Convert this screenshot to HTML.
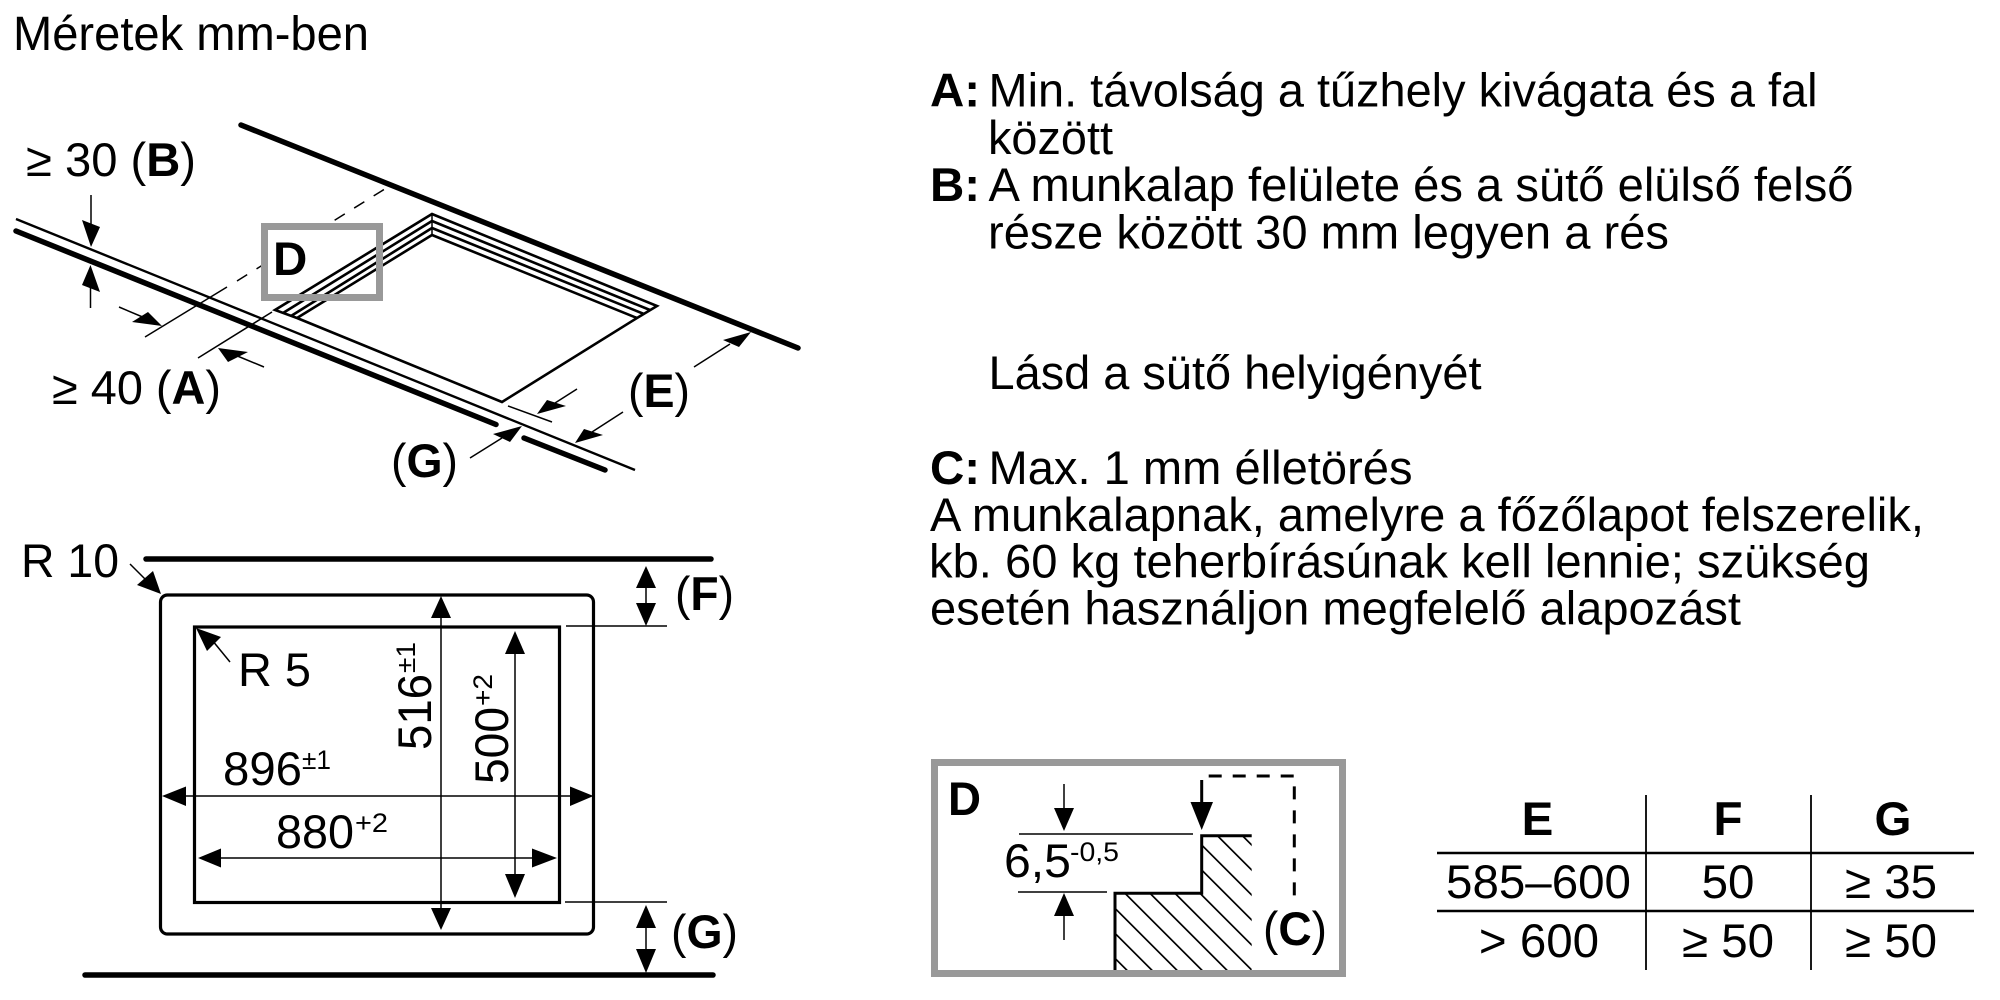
<!DOCTYPE html>
<html><head><meta charset="utf-8"><style>
html,body{margin:0;padding:0;background:#fff}
svg{display:block}
text{font-family:"Liberation Sans",sans-serif;font-size:47.5px;fill:#000}
.b{font-weight:bold}
.sup{font-size:27px}
.l{stroke:#000;fill:none}
</style></head><body>
<svg width="2000" height="1000" viewBox="0 0 2000 1000" xmlns="http://www.w3.org/2000/svg">
<rect width="2000" height="1000" fill="#fff"/>
<text x="13" y="50" textLength="356" lengthAdjust="spacingAndGlyphs" style="font-size:48px">Méretek mm-ben</text>

<!-- isometric -->
<g class="l" stroke-linecap="round">
<line x1="241" y1="125" x2="798" y2="348" stroke-width="5.5"/>
<line x1="16" y1="231" x2="496" y2="424.5" stroke-width="5.5"/>
<line x1="524" y1="438" x2="605" y2="470" stroke-width="5.5"/>
</g>
<line class="l" x1="16" y1="219" x2="635" y2="470" stroke-width="2.4"/>
<line class="l" x1="145" y1="337" x2="227" y2="287" stroke-width="1.5"/>
<line class="l" x1="237" y1="281" x2="388" y2="187" stroke-width="1.5" stroke-dasharray="12 11"/>
<line class="l" x1="198" y1="358" x2="272" y2="312" stroke-width="1.5"/>
<rect x="264.5" y="226.5" width="115" height="71" fill="#fff"/>
<g class="l" stroke-width="2.6">
<polyline points="297,318 432,235 637,318"/>
<polyline points="291,316 432,228 644,314"/>
<polyline points="283,313 432,221 650,310"/>
<polyline points="297,318 275,310 432,214 657,306 637,318 502,402 297,318"/>
<line x1="432" y1="214" x2="432" y2="235" stroke-width="1.5"/>
</g>
<rect x="264.5" y="226.5" width="115" height="71" fill="none" stroke="#999" stroke-width="7"/>
<text class="b" x="273" y="275">D</text>

<!-- iso arrows -->
<g class="l" stroke-width="1.5">
<line x1="91" y1="195" x2="91" y2="225"/>
<line x1="90.5" y1="285" x2="90.5" y2="308"/>
<line x1="119" y1="307" x2="145" y2="318"/>
<line x1="264" y1="367" x2="235" y2="355"/>
<line x1="694" y1="367" x2="730" y2="344"/>
<line x1="577" y1="389" x2="555" y2="403"/>
<line x1="508" y1="406" x2="552" y2="422"/>
<line x1="623" y1="412" x2="592" y2="432"/>
<line x1="470" y1="458" x2="502" y2="438"/>
</g>
<g fill="#000">
<polygon points="91,247 82,220 100,227"/>
<polygon points="90.5,265 82,285 100,292"/>
<polygon points="162,326 132,322 148,312"/>
<polygon points="218,348 228,362 248,352"/>
<polygon points="751,332 723,340 739,347"/>
<polygon points="537,414 547,400 566,406"/>
<polygon points="575,443 584,429 603,435"/>
<polygon points="522,426 493,434 510,442"/>
</g>
<text x="26" y="176" textLength="170" lengthAdjust="spacingAndGlyphs">≥ 30 (<tspan class="b">B</tspan>)</text>
<text x="52" y="404" textLength="169" lengthAdjust="spacingAndGlyphs">≥ 40 (<tspan class="b">A</tspan>)</text>
<text x="628" y="407" textLength="62" lengthAdjust="spacingAndGlyphs">(<tspan class="b">E</tspan>)</text>
<text x="391" y="477" textLength="67" lengthAdjust="spacingAndGlyphs">(<tspan class="b">G</tspan>)</text>

<!-- plan -->
<g class="l" stroke-linecap="round" stroke-width="5.5">
<line x1="146" y1="559" x2="711" y2="559"/>
<line x1="85" y1="975" x2="713" y2="975"/>
</g>
<rect x="160.5" y="595" width="433" height="339" rx="7" fill="none" stroke="#000" stroke-width="3.2"/>
<rect x="194.5" y="627" width="365" height="275.5" fill="none" stroke="#000" stroke-width="3.2"/>
<g class="l" stroke-width="1.5">
<line x1="130" y1="564" x2="146" y2="580"/>
<line x1="230" y1="662" x2="212" y2="640"/>
<line x1="441" y1="600" x2="441" y2="925"/>
<line x1="515" y1="640" x2="515" y2="890"/>
<line x1="170" y1="796" x2="585" y2="796"/>
<line x1="205" y1="858" x2="548" y2="858"/>
<line x1="566" y1="626" x2="667" y2="626"/>
<line x1="565" y1="902" x2="667" y2="902"/>
<line x1="646" y1="570" x2="646" y2="622"/>
<line x1="646" y1="910" x2="646" y2="970"/>
</g>
<g fill="#000">
<polygon points="161,594 137,585 153,571"/>
<polygon points="196,628 207,651 221,637"/>
<polygon points="441,596 431,618 451,618"/>
<polygon points="441,930 431,908 451,908"/>
<polygon points="515,631 505,654 525,654"/>
<polygon points="515,898 505,874 525,874"/>
<polygon points="162,796 186,786.5 186,806"/>
<polygon points="593.5,796 570,786.5 570,806"/>
<polygon points="198,858 221,848.5 221,867.5"/>
<polygon points="557,858 532,848.5 532,867.5"/>
<polygon points="646,566 636,588 656,588"/>
<polygon points="646,626 636,603 656,603"/>
<polygon points="646,905 636,928 656,928"/>
<polygon points="646,973 636,949 656,949"/>
</g>
<text x="21" y="577" textLength="98" lengthAdjust="spacingAndGlyphs">R 10</text>
<text x="238" y="686" textLength="73" lengthAdjust="spacingAndGlyphs">R 5</text>
<text x="223" y="785" textLength="79" lengthAdjust="spacingAndGlyphs">896</text>
<text class="sup" x="302" y="769" textLength="29" lengthAdjust="spacingAndGlyphs">±1</text>
<text x="276" y="848" textLength="78" lengthAdjust="spacingAndGlyphs">880</text>
<text class="sup" x="355" y="832" textLength="33" lengthAdjust="spacingAndGlyphs">+2</text>
<text transform="translate(431,750) rotate(-90)" textLength="76" lengthAdjust="spacingAndGlyphs">516</text>
<text class="sup" transform="translate(415,673) rotate(-90)" textLength="31" lengthAdjust="spacingAndGlyphs">±1</text>
<text transform="translate(508,784) rotate(-90)" textLength="77" lengthAdjust="spacingAndGlyphs">500</text>
<text class="sup" transform="translate(492,706) rotate(-90)" textLength="32" lengthAdjust="spacingAndGlyphs">+2</text>
<text x="675" y="610" textLength="59" lengthAdjust="spacingAndGlyphs">(<tspan class="b">F</tspan>)</text>
<text x="671" y="948" textLength="67" lengthAdjust="spacingAndGlyphs">(<tspan class="b">G</tspan>)</text>

<!-- text block -->
<text class="b" x="930" y="106.5">A:</text>
<text x="988.5" y="106.5" textLength="829" lengthAdjust="spacingAndGlyphs">Min. távolság a tűzhely kivágata és a fal</text>
<text x="988" y="154" textLength="125" lengthAdjust="spacingAndGlyphs">között</text>
<text class="b" x="930" y="201">B:</text>
<text x="988.5" y="201" textLength="865" lengthAdjust="spacingAndGlyphs">A munkalap felülete és a sütő elülső felső</text>
<text x="988" y="248.5" textLength="681" lengthAdjust="spacingAndGlyphs">része között 30 mm legyen a rés</text>
<text x="988.5" y="389" textLength="493" lengthAdjust="spacingAndGlyphs">Lásd a sütő helyigényét</text>
<text class="b" x="930" y="484">C:</text>
<text x="988.5" y="484" textLength="424" lengthAdjust="spacingAndGlyphs">Max. 1 mm élletörés</text>
<text x="930" y="531" textLength="994" lengthAdjust="spacingAndGlyphs">A munkalapnak, amelyre a főzőlapot felszerelik,</text>
<text x="929" y="577.5" textLength="941" lengthAdjust="spacingAndGlyphs">kb. 60 kg teherbírásúnak kell lennie; szükség</text>
<text x="930" y="624.5" textLength="811" lengthAdjust="spacingAndGlyphs">esetén használjon megfelelő alapozást</text>

<!-- detail D -->
<rect x="934.5" y="762.5" width="408" height="211" fill="#fff" stroke="#999" stroke-width="7"/>
<text class="b" x="948" y="815" textLength="33" lengthAdjust="spacingAndGlyphs">D</text>
<clipPath id="h"><polygon points="1115,893 1202,893 1202,836 1251.7,836 1251.7,970 1115,970"/></clipPath>
<g clip-path="url(#h)" stroke="#000" stroke-width="1.7">
<line x1="1106.7" y1="700" x2="1406.7" y2="1000"/>
<line x1="1081.7" y1="700" x2="1381.7" y2="1000"/>
<line x1="1056.7" y1="700" x2="1356.7" y2="1000"/>
<line x1="1031.7" y1="700" x2="1331.7" y2="1000"/>
<line x1="1006.7" y1="700" x2="1306.7" y2="1000"/>
<line x1="981.7" y1="700" x2="1281.7" y2="1000"/>
<line x1="956.7" y1="700" x2="1256.7" y2="1000"/>
<line x1="931.7" y1="700" x2="1231.7" y2="1000"/>
<line x1="906.7" y1="700" x2="1206.7" y2="1000"/>
<line x1="881.7" y1="700" x2="1181.7" y2="1000"/>
<line x1="856.7" y1="700" x2="1156.7" y2="1000"/>
</g>
<path class="l" d="M1251.7 835.7H1201.7V893.3H1115V970" stroke-width="3"/>
<path class="l" d="M1201.7 793V776H1294.3V897" stroke-width="3" stroke-dasharray="13 11"/>
<line class="l" x1="1201.7" y1="793" x2="1201.7" y2="805" stroke-width="3"/>
<polygon points="1201.7,830 1190.5,802 1213,802" fill="#000"/>
<g class="l" stroke-width="1.5">
<line x1="1064" y1="784" x2="1064" y2="812"/>
<line x1="1064" y1="912" x2="1064" y2="940"/>
<line x1="1019" y1="834" x2="1193" y2="834"/>
<line x1="1018" y1="892" x2="1107" y2="892"/>
</g>
<polygon points="1064,831 1054,808 1074,808" fill="#000"/>
<polygon points="1064,893 1054,916 1074,916" fill="#000"/>
<text x="1004" y="877" textLength="67" lengthAdjust="spacingAndGlyphs">6,5</text>
<text class="sup" x="1070" y="861" textLength="49" lengthAdjust="spacingAndGlyphs">-0,5</text>
<text x="1263" y="945" textLength="64" lengthAdjust="spacingAndGlyphs">(<tspan class="b">C</tspan>)</text>

<!-- table -->
<g class="l">
<line x1="1646" y1="795" x2="1646" y2="970" stroke-width="1.8"/>
<line x1="1811" y1="795" x2="1811" y2="970" stroke-width="1.8"/>
<line x1="1437" y1="853" x2="1974" y2="853" stroke-width="2.6"/>
<line x1="1437" y1="911" x2="1974" y2="911" stroke-width="2.6"/>
</g>
<g text-anchor="middle">
<text class="b" x="1537.5" y="835">E</text>
<text class="b" x="1728" y="835">F</text>
<text class="b" x="1893" y="835">G</text>
<text x="1538.5" y="898">585–600</text>
<text x="1728" y="898">50</text>
<text x="1891" y="898">≥ 35</text>
<text x="1539" y="957">&gt; 600</text>
<text x="1728" y="957">≥ 50</text>
<text x="1891" y="957">≥ 50</text>
</g>
</svg>
</body></html>
